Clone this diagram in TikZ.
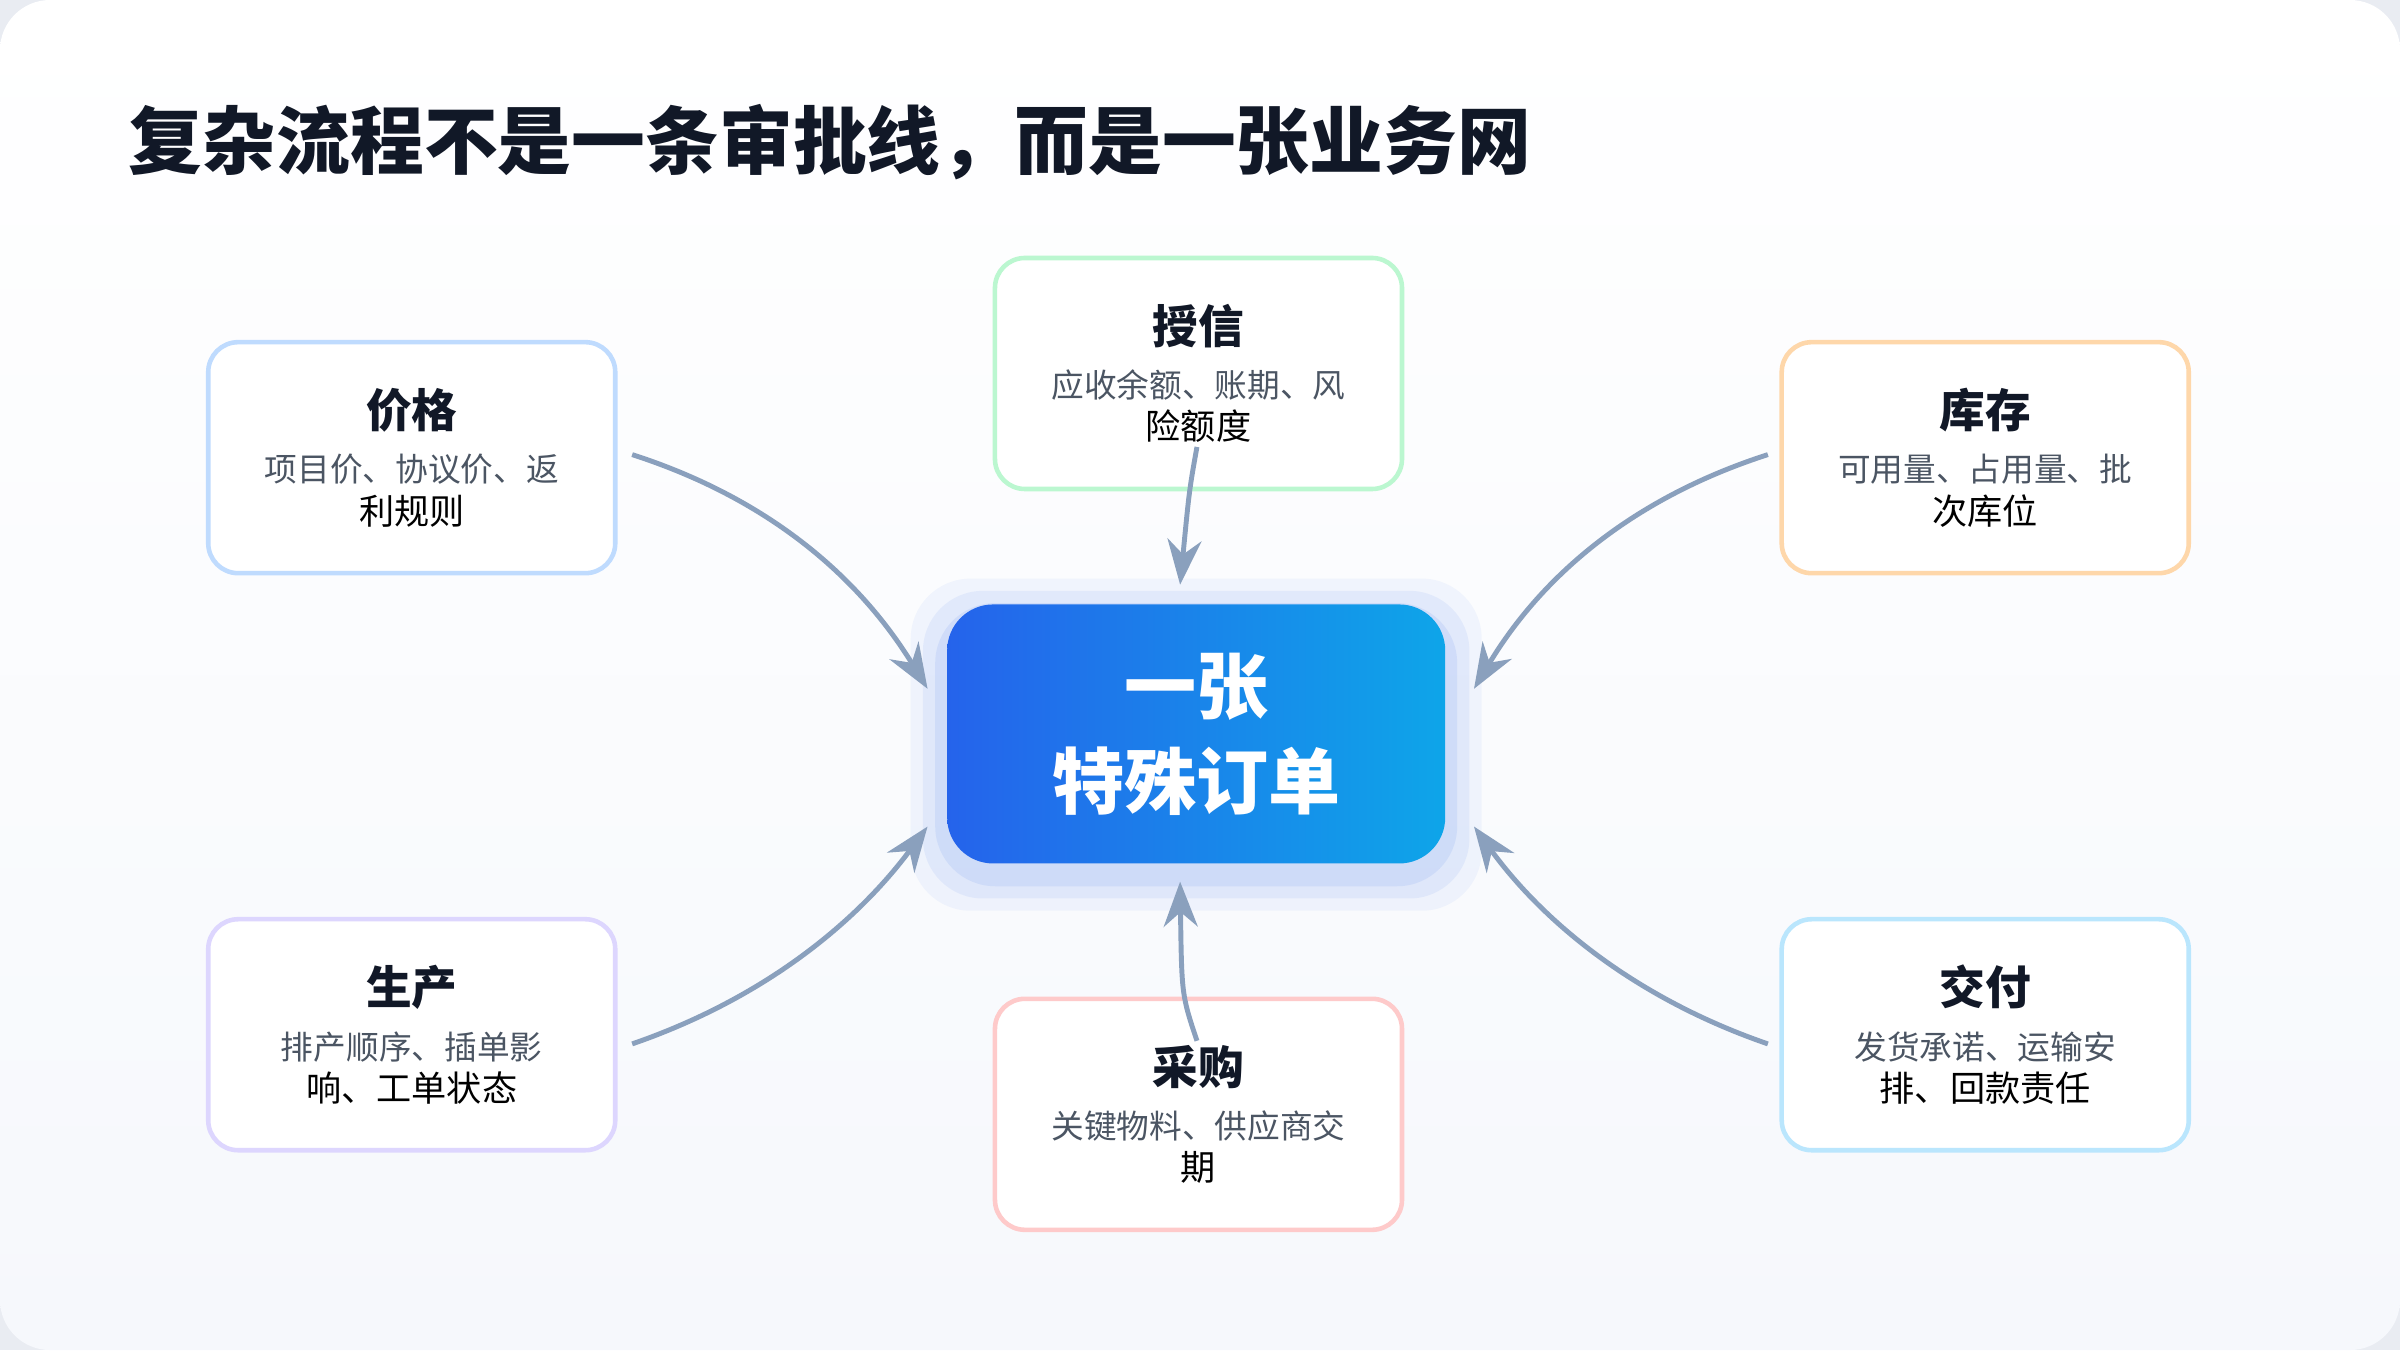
\documentclass[tikz,border=0pt]{standalone}
\usepackage{fontspec}
\setmainfont{Noto Sans CJK SC}
\usetikzlibrary{arrows.meta}
\definecolor{bgout}{HTML}{E9ECF2}
\definecolor{bgtop}{HTML}{FFFFFF}
\definecolor{bgbot}{HTML}{F6F8FC}
\definecolor{titlec}{HTML}{111827}
\definecolor{bodyc}{HTML}{4B5563}
\definecolor{arrowc}{HTML}{8AA0BD}
\definecolor{cblue}{HTML}{BFDBFE}
\definecolor{cgreen}{HTML}{BBF7D0}
\definecolor{corange}{HTML}{FED7AA}
\definecolor{cpurple}{HTML}{DDD6FE}
\definecolor{cred}{HTML}{FECACA}
\definecolor{ccyan}{HTML}{BAE6FD}
\definecolor{hubA}{HTML}{2563EB}
\definecolor{hubB}{HTML}{0EA5E9}
\newcommand{\cardtext}[3]{\fontsize{13}{16}\selectfont\bfseries\color{titlec}#1\\[0.12cm]
  \fontsize{9.3}{13}\selectfont\mdseries\color{bodyc}#2\\#3}
\begin{document}
\begin{tikzpicture}[x=0.01531cm,y=-0.01531cm,
  card/.style={draw=#1,line width=1.3pt,fill=white,rounded corners=0.3cm,
    minimum width=4.07cm,minimum height=2.31cm,align=center,inner sep=0pt},
  hub/.style={rounded corners=0.46cm,minimum width=4.98cm,minimum height=2.59cm,
    left color=hubA,right color=hubB,align=center,text=white,
    font=\fontsize{20.5}{27}\selectfont\bfseries},
  flow/.style={draw=arrowc,line width=1.4pt,-{Stealth[length=0.45cm,width=0.34cm]}}]
\useasboundingbox (0,0) rectangle (1568,882);
\fill[bgout] (0,0) rectangle (1568,882);
\shade[top color=bgtop,bottom color=bgbot,rounded corners=0.5cm] (0,0) rectangle (1568,882);
% title
\node[anchor=west,text=titlec,font=\fontsize{21}{25}\selectfont\bfseries] (title) at (76,93)
  {复杂流程不是一条审批线，而是一张业务网};
% glow behind hub
\foreach \g/\o in {24/0.05,16/0.07,8/0.09}
  \fill[hubA,opacity=\o,rounded corners=0.6cm] (619-\g,402-\g) rectangle (944+\g,571+\g);
\node[hub] (hub) at (781.5,479.5) {一张\\特殊订单};
% cards
\node[card=cblue] (price) at (269,299) {\cardtext{价格}{项目价、协议价、返}{利规则}};
\node[card=cgreen] (credit) at (783,244) {\cardtext{授信}{应收余额、账期、风}{险额度}};
\node[card=corange] (stock) at (1297,299) {\cardtext{库存}{可用量、占用量、批}{次库位}};
\node[card=cpurple] (prod) at (269,676) {\cardtext{生产}{排产顺序、插单影}{响、工单状态}};
\node[card=cred] (buy) at (783,728) {\cardtext{采购}{关键物料、供应商交}{期}};
\node[card=ccyan] (ship) at (1297,676) {\cardtext{交付}{发货承诺、运输安}{排、回款责任}};
% connector ends
\coordinate (priceout) at (413,297);
\coordinate (creditout) at (782,292);
\coordinate (stockout) at (1155,297);
\coordinate (prodout) at (413,682);
\coordinate (buyout) at (782,680);
\coordinate (shipout) at (1155,682);
\coordinate (hubnw) at (606,450);
\coordinate (hubn) at (771,382);
\coordinate (hubne) at (963,450);
\coordinate (hubsw) at (606,540);
\coordinate (hubs) at (771,576);
\coordinate (hubse) at (963,540);
\draw[flow] (priceout) .. controls (500,325) and (560,375) .. (hubnw);
\draw[flow] (creditout) .. controls (777,320) .. (hubn);
\draw[flow] (stockout) .. controls (1068,325) and (1008,375) .. (hubne);
\draw[flow] (prodout) .. controls (500,652) and (560,602) .. (hubsw);
\draw[flow] (buyout) .. controls (772,650) .. (hubs);
\draw[flow] (shipout) .. controls (1068,652) and (1008,602) .. (hubse);
\end{tikzpicture}
\end{document}
